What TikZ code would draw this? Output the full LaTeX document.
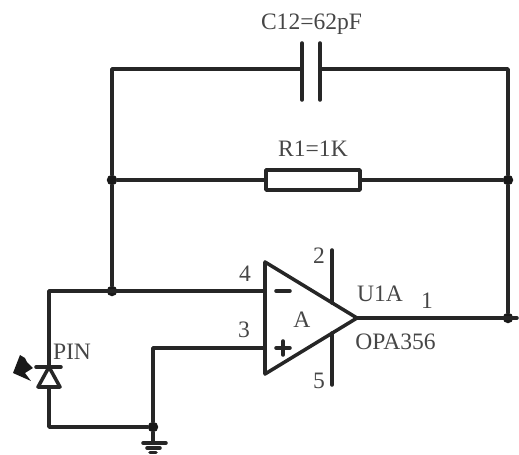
\documentclass[tikz,border=0pt]{standalone}
\usepackage{fontspec}
\setmainfont{Liberation Serif}
\definecolor{T}{RGB}{70, 70, 70}
\tikzset{
  wire/.style={line width=2pt, color=black!85, line cap=round, line join=round},
  dot/.style={circle, fill=black!90, inner sep=0pt, minimum size=0.21cm},
  lbl/.style={text=T, inner sep=0pt, font=\fontsize{13.4}{13.4}\selectfont}
}
\begin{document}
\begin{tikzpicture}
   	\useasboundingbox (0,0) rectangle (10.38,9.08);

	%Puntos del circuito
   	\coordinate (TL) at (2.24,7.70);
   	\coordinate (TR) at (10.16,7.70);
   	\node[dot] (JL) at (2.24,5.48) {};
   	\node[dot] (JR) at (10.16,5.48) {};
   	\node[dot] (JN) at (2.24,3.26) {};
   	\node[dot] (JO) at (10.16,2.72) {};
   	\node[dot] (JG) at (3.06,0.54) {};
   	\coordinate (PL) at (0.98,3.26);
   	\coordinate (BL) at (0.98,0.54);
   	\coordinate (PP) at (3.06,2.12);
   	\coordinate (OE) at (10.34,2.72);

	%Amplificador
   	\coordinate (AT) at (5.30,3.84);
   	\coordinate (AB) at (5.30,1.60);
   	\coordinate (AO) at (7.14,2.72);
   	\coordinate (AN) at (5.30,3.26);
   	\coordinate (AP) at (5.30,2.12);
   	\draw[wire] (AT) -- (AO) -- (AB) -- cycle;
   	\draw[wire] (5.52,3.26) -- (5.80,3.26);
   	\draw[wire] (5.52,2.12) -- (5.80,2.12);
   	\draw[wire] (5.66,1.98) -- (5.66,2.26);
   	\coordinate (S1) at (6.64,4.08);
   	\coordinate (S2) at (6.64,3.02);
   	\coordinate (S3) at (6.64,2.42);
   	\coordinate (S4) at (6.64,1.38);
   	\draw[wire] (S1) -- (S2);
   	\draw[wire] (S3) -- (S4);

	%Condensador C12
   	\coordinate (C1) at (6.04,7.70);
   	\coordinate (C2) at (6.40,7.70);
   	\draw[wire] (6.04,8.22) -- (6.04,7.08);
   	\draw[wire] (6.40,8.22) -- (6.40,7.08);

	%Resistencia R1
   	\node[draw, wire, minimum width=1.88cm, minimum height=0.40cm, inner sep=0pt] (R1) at (6.26,5.48) {};

	%Diodo PIN
   	\coordinate (DT) at (0.98,1.74);
   	\coordinate (DB) at (0.98,1.34);
   	\draw[wire] (0.72,1.74) -- (1.22,1.74);
   	\draw[wire] (DT) -- (0.76,1.34) -- (1.20,1.34) -- cycle;
   	\fill[black!90] (0.26,1.62) -- (0.40,1.98) -- (0.50,1.92) -- (0.54,1.84) -- (0.66,1.72) -- (0.50,1.62) -- (0.62,1.46) -- cycle;

	%Cables
   	\draw[wire] (JN) -- (JL) -- (TL) -- (C1);
   	\draw[wire] (C2) -- (TR) -- (JR) -- (JO);
   	\draw[wire] (JL) -- (R1);
   	\draw[wire] (R1) -- (JR);
   	\draw[wire] (DT) -- (PL) -- (AN);
   	\draw[wire] (DB) -- (BL) -- (JG);
   	\draw[wire] (JG) -- (PP) -- (AP);
   	\draw[wire] (AO) -- (OE);

	%Tierra
   	\coordinate (G0) at (3.06,0.22);
   	\draw[wire] (JG) -- (G0);
   	\draw[wire] (2.86,0.22) -- (3.32,0.22);
   	\draw[wire] (2.94,0.12) -- (3.20,0.12);
   	\draw[wire] (3.00,0.03) -- (3.12,0.03);

	%Etiquetas
   	\node[lbl] (lC) at (6.23,8.60) {C12=62pF};
   	\node[lbl] (lR) at (6.26,6.10) {R1=1K};
   	\node[lbl] (l2) at (6.38,3.96) {2};
   	\node[lbl] (l4) at (4.90,3.60) {4};
   	\node[lbl] (l3) at (4.88,2.48) {3};
   	\node[lbl] (l5) at (6.38,1.46) {5};
   	\node[lbl] (lA) at (6.04,2.68) {A};
   	\node[lbl] (lU) at (7.60,3.20) {U1A};
   	\node[lbl] (l1) at (8.54,3.06) {1};
   	\node[lbl] (lO) at (7.91,2.24) {OPA356};
   	\node[lbl] (lP) at (1.44,2.04) {PIN};
\end{tikzpicture}
\end{document}
